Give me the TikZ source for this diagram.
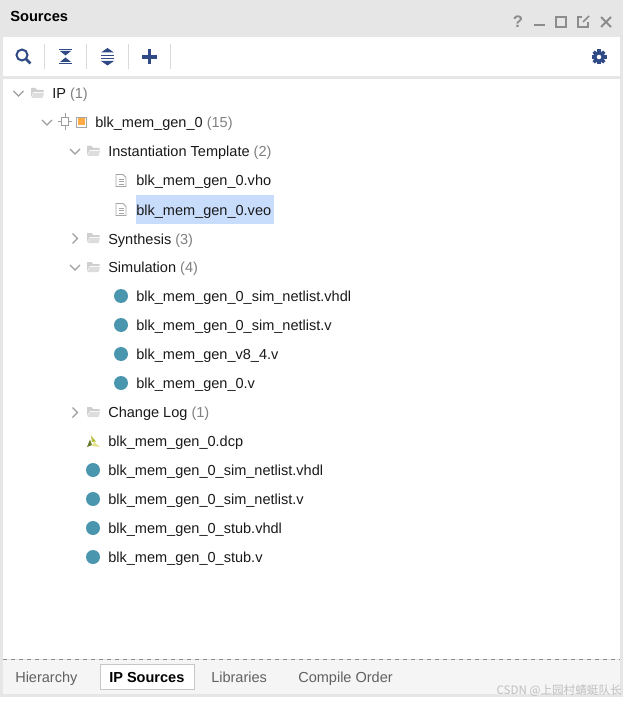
\documentclass[tikz,border=0pt]{standalone}
\usepackage{fontspec}
\setmainfont{Liberation Sans}
\newfontfamily\cjkfont{Noto Sans CJK SC}
\definecolor{panelgray}{HTML}{E6E6E6}
\definecolor{tabgray}{HTML}{F5F5F5}
\definecolor{edgegray}{HTML}{D9D9D9}
\definecolor{countgray}{HTML}{808080}
\definecolor{iconblue}{HTML}{2F4A85}
\definecolor{winicon}{HTML}{8C8C8C}
\definecolor{foldergray}{HTML}{CFCFCF}
\definecolor{dotblue}{HTML}{4A96AE}
\definecolor{rowblue}{HTML}{C8DCFB}
\definecolor{coreorange}{HTML}{FFAA44}
\definecolor{leafmid}{HTML}{B5BD3A}
\definecolor{leafpale}{HTML}{E5E08A}
\definecolor{leafdark}{HTML}{6B7A2A}
\newcommand{\cnt}[1]{\textcolor{countgray}{(#1)}}
\tikzset{
  treetext/.style={anchor=base west,inner sep=0pt,font=\fontsize{10.9pt}{12pt}\selectfont,text=black!90},
  tabtext/.style={anchor=base west,inner sep=0pt,font=\fontsize{10.9pt}{12pt}\selectfont,text=black!62},
  winline/.style={draw=winicon,line width=1.4pt},
  chevron/.style={draw=black!38,line width=0.85pt},
  bluedot/.style={circle,fill=dotblue,inner sep=0pt,minimum size=10.5pt},
  sepline/.style={draw=edgegray,line width=0.75pt},
  pics/folder/.style={code={
    \fill[foldergray] (-6.5,-5) -- (-2,-5) -- (-0.5,-3) -- (6,-3) -- (6,-1) -- (-4,-1) -- (-6.5,4) -- cycle;
    \fill[foldergray!70] (-4,0) -- (6.5,0) -- (5,5) -- (-6,5) -- cycle;
  }},
  pics/docfile/.style={code={
    \draw[draw=black!35,line width=0.6pt,fill=white] (-5,-6) -- (2,-6) -- (5,-3) -- (5,6) -- (-5,6) -- cycle;
    \draw[draw=black!35,line width=0.6pt] (-2.5,-1.5) -- (2.5,-1.5) (-2.5,1) -- (2.5,1) (-2.5,3.5) -- (2.5,3.5);
  }},
  pics/chevdown/.style={code={\draw[chevron] (-5,-2.5) -- (0,2.5) -- (5,-2.5);}},
  pics/chevright/.style={code={\draw[chevron] (-2.5,-5) -- (2.5,0) -- (-2.5,5);}},
}
\begin{document}
\begin{tikzpicture}[x=0.75pt,y=-0.75pt]
\useasboundingbox (0,0) rectangle (628,702);
% panel
\fill[white] (0,0) rectangle (628,702);
\fill[panelgray] (0,0) rectangle (623,697);
\fill[white] (3,37) rectangle (620,76);
\fill[white] (3,79) rectangle (620,659);
\fill[tabgray] (3,660) rectangle (620,694);
\draw[dashed,draw=black!45,line width=0.75pt] (3,659) -- (620,659);

% title and window buttons
\node[treetext,font=\fontsize{11pt}{12pt}\selectfont\bfseries,text=black] (title) at (10,22) {Sources};
\node[anchor=base,inner sep=0pt,font=\fontsize{12.5pt}{13pt}\selectfont\bfseries,text=winicon] (help) at (518,27.5) {?};
\draw[winline] (534,25) -- (545,25);
\draw[winline] (556,17) rectangle (566,27);
\draw[winline] (582,17) -- (578,17) -- (578,27) -- (588,27) -- (588,22);
\draw[winline,line width=1.2pt] (583,22) -- (589,16);
\draw[winline] (601,17) -- (611,27) (611,17) -- (601,27);

% toolbar
\draw[iconblue,line width=1.5pt] (22,55) circle (5.5);
\draw[iconblue,line width=2pt] (26,59) -- (30.5,63.5);
\foreach \x in {44,86,128,170} \draw[sepline] (\x,44) -- (\x,69);
\draw[iconblue,line width=0.9pt] (59,49.5) -- (72,49.5) (59,63.5) -- (72,63.5);
\fill[iconblue] (60,51) -- (71,51) -- (65.5,55.5) -- cycle;
\fill[iconblue] (60,62) -- (71,62) -- (65.5,57.5) -- cycle;
\fill[iconblue] (101,52.5) -- (114,52.5) -- (107.5,48) -- cycle;
\fill[iconblue] (101,61) -- (114,61) -- (107.5,65.5) -- cycle;
\draw[iconblue,line width=0.8pt] (101,55.5) -- (114,55.5) (101,58.5) -- (114,58.5);
\draw[iconblue,line width=2.6pt] (142,57) -- (157,57) (149.5,49.5) -- (149.5,64.5);
\draw[iconblue,line width=2.6pt] (599,57) circle (4.3);
\foreach \a in {0,45,...,315} \draw[iconblue,line width=2.6pt] (599,57) ++(\a:5) -- ++(\a:2.5);

% selected row
\fill[rowblue] (136,195) rectangle (274,224);

% tree rows
\pic at (18.5,93.5) {chevdown};
\pic at (37.5,93) {folder};
\node[treetext] (ip) at (52,99) {IP \cnt{1}};

\pic at (47,122.5) {chevdown};
\draw[draw=black!38,line width=0.7pt] (61.5,117) rectangle (68.5,125) (65,113) -- (65,117) (65,125) -- (65,130) (58,121) -- (61.5,121) (68.5,121) -- (72,121);
\draw[draw=black!35,line width=0.7pt,fill=white] (76.5,117) rectangle (86.5,127);
\fill[coreorange] (78,118.5) rectangle (85,125.5);
\node[treetext] (core) at (95,128) {blk\_mem\_gen\_0 \cnt{15}};

\pic at (75,151.5) {chevdown};
\pic at (93.5,151) {folder};
\node[treetext] (tmpl) at (108,157) {Instantiation Template \cnt{2}};
\pic at (121,180.5) {docfile};
\node[treetext] (vho) at (136,186) {blk\_mem\_gen\_0.vho};
\pic at (121,209.5) {docfile};
\node[treetext] (veo) at (136,215) {blk\_mem\_gen\_0.veo};

\pic at (75,238.5) {chevright};
\pic at (93.5,238) {folder};
\node[treetext] (synth) at (108,244) {Synthesis \cnt{3}};

\pic at (75,267.5) {chevdown};
\pic at (93.5,267) {folder};
\node[treetext] (sim) at (108,272) {Simulation \cnt{4}};
\node[bluedot] (dot1) at (121,296) {};
\node[treetext] (simvhdl) at (136,301) {blk\_mem\_gen\_0\_sim\_netlist.vhdl};
\node[bluedot] (dot2) at (121,325) {};
\node[treetext] (simv) at (136,330) {blk\_mem\_gen\_0\_sim\_netlist.v};
\node[bluedot] (dot3) at (121,354) {};
\node[treetext] (genv) at (136,359) {blk\_mem\_gen\_v8\_4.v};
\node[bluedot] (dot4) at (121,383) {};
\node[treetext] (zerov) at (136,388) {blk\_mem\_gen\_0.v};

\pic at (75,412.5) {chevright};
\pic at (93.5,412) {folder};
\node[treetext] (clog) at (108,417) {Change Log \cnt{1}};

% dcp icon
\fill[leafmid] (91,435.5) -- (96,441.5) -- (92,442) -- cycle;
\fill[leafpale] (94,442) -- (100,447) -- (92,446) -- cycle;
\fill[leafdark] (87,447) -- (90,439.5) -- (92,445) -- cycle;
\node[treetext] (dcp) at (108,446) {blk\_mem\_gen\_0.dcp};
\node[bluedot] (dot5) at (93,470) {};
\node[treetext] (topvhdl) at (108,475) {blk\_mem\_gen\_0\_sim\_netlist.vhdl};
\node[bluedot] (dot6) at (93,499) {};
\node[treetext] (topv) at (108,504) {blk\_mem\_gen\_0\_sim\_netlist.v};
\node[bluedot] (dot7) at (93,528) {};
\node[treetext] (stubvhdl) at (108,533) {blk\_mem\_gen\_0\_stub.vhdl};
\node[bluedot] (dot8) at (93,557) {};
\node[treetext] (stubv) at (108,562) {blk\_mem\_gen\_0\_stub.v};

% tabs
\draw[draw=black!22,line width=0.75pt,fill=white] (100.5,664.5) rectangle (194.5,689.5);
\node[tabtext] (hier) at (15,682) {Hierarchy};
\node[tabtext,text=black,font=\fontsize{10.9pt}{12pt}\selectfont\bfseries] (ipsrc) at (109,682) {IP Sources};
\node[tabtext] (libs) at (211,682) {Libraries};
\node[tabtext] (order) at (298,682) {Compile Order};

% watermark
\node[anchor=base east,inner sep=0pt,text=black!25,font=\fontsize{8.7pt}{10pt}\cjkfont] (mark) at (622,694) {CSDN @上园村蜻蜓队长};
\end{tikzpicture}
\end{document}
